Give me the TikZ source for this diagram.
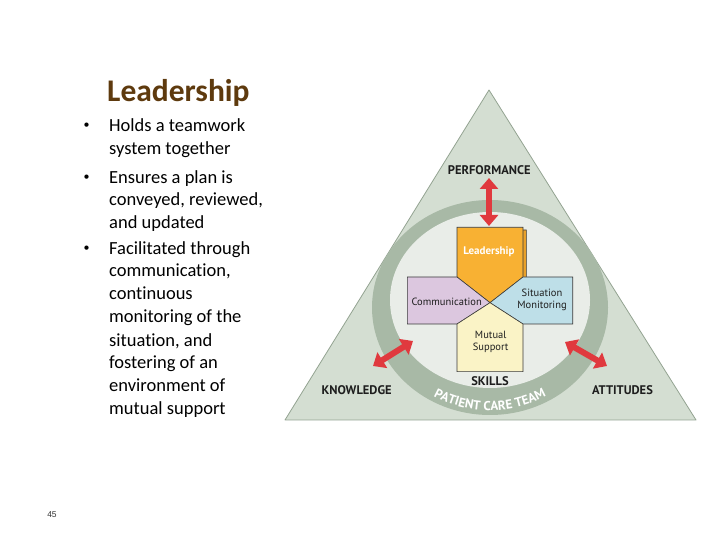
\documentclass[tikz,border=0pt]{standalone}
\usepackage{fontspec}
\setmainfont[Ligatures=NoCommon]{Carlito}
\newfontfamily\diagfont{PT Sans}
\newfontfamily\pagefont{Liberation Sans}
\usetikzlibrary{arrows.meta,decorations.text}
\definecolor{brownT}{HTML}{5E3A0E}
\definecolor{triFill}{HTML}{D4DED2}
\definecolor{triEdge}{HTML}{93A391}
\definecolor{ringC}{HTML}{A8B9A6}
\definecolor{innerC}{HTML}{E9EDE8}
\definecolor{arrowRed}{HTML}{E0393E}
\definecolor{orangeC}{HTML}{F8B133}
\definecolor{orangeD}{HTML}{E9A12A}
\definecolor{lavC}{HTML}{DCC7DF}
\definecolor{blueC}{HTML}{BEDFE8}
\definecolor{yelC}{HTML}{FAF3C6}
\definecolor{boxEdge}{HTML}{3A3A3A}
\definecolor{labC}{HTML}{1E1E1E}
\tikzset{
  bodytext/.style={anchor=base west, inner sep=0pt, font=\fontsize{18.5}{23}\selectfont},
  bulletmark/.style={inner sep=0pt, font=\fontsize{12}{14}\selectfont},
  cornerlab/.style={inner sep=0pt, text=labC, font=\diagfont\bfseries\fontsize{12.5}{14}\selectfont},
  boxlab/.style={inner sep=0pt, text=labC, align=center, font=\diagfont\fontsize{10.5}{12}\selectfont},
  boxshape/.style={draw=boxEdge, line width=0.6pt, line join=miter},
  redarrow/.style={draw=arrowRed, line width=6pt, {Triangle[width=18pt,length=11pt]}-{Triangle[width=18pt,length=11pt]}}
}
\begin{document}
\begin{tikzpicture}[x=1pt,y=1pt]
\path[use as bounding box, fill=white] (0,0) rectangle (720,540);

% left text
\node[anchor=base west, inner sep=0pt, text=brownT, font=\fontsize{31.5}{36}\selectfont\bfseries] (title) at (107,438.3) {Leadership};
\node[bulletmark] (bu1) at (86.5,414) {•};
\node[bulletmark] (bu2) at (86.5,362.5) {•};
\node[bulletmark] (bu3) at (86.5,290.8) {•};
\node[bodytext] (l1) at (109,408.3) {Holds a teamwork};
\node[bodytext] (l2) at (109,385.5) {system together};
\node[bodytext] (l3) at (109,356.7) {Ensures a plan is};
\node[bodytext] (l4) at (109,334.5) {conveyed, reviewed,};
\node[bodytext] (l5) at (109,311.7) {and updated};
\node[bodytext] (l6) at (109,285) {Facilitated through};
\node[bodytext] (l7) at (109,263) {communication,};
\node[bodytext] (l8) at (109,240) {continuous};
\node[bodytext] (l9) at (109,217) {monitoring of the};
\node[bodytext] (l10) at (109,193.5) {situation, and};
\node[bodytext] (l11) at (109,171) {fostering of an};
\node[bodytext] (l12) at (109,148) {environment of};
\node[bodytext] (l13) at (109,125) {mutual support};

\node[inner sep=0pt, font=\pagefont\fontsize{8.5}{10}\selectfont, text=black!80] (pg) at (52,25) {45};

% triangle
\draw[fill=triFill, draw=triEdge, line width=0.8pt, line join=round] (489,450) -- (696,120) -- (285,120) -- cycle;

% ring
\fill[ringC] (490,232.5) ellipse[x radius=118, y radius=107.5];
\fill[innerC] (490,240) ellipse[x radius=100, y radius=88];
\coordinate (ts) at (420.3,152.4);
\path[decorate, decoration={text along path, text align=center, text color=white,
  text={|\diagfont\bfseries\fontsize{13}{14}\selectfont|PATIENT CARE TEAM}}]
  (ts) arc[start angle=232, end angle=308, x radius=113, y radius=108];

% boxes
\draw[boxshape, fill=orangeD] (460.3,310) -- (526.3,310) -- (526.3,260.3) -- (493.3,234.6) -- (460.3,260.3) -- cycle;
\draw[boxshape, fill=orangeC] (457,312.7) -- (523,312.7) -- (523,263) -- (490,237.3) -- (457,263) -- cycle;
\draw[boxshape, fill=lavC] (407.3,263) -- (457,263) -- (490,237.3) -- (457,216) -- (407.3,216) -- cycle;
\draw[boxshape, fill=blueC] (523,263) -- (572.7,263) -- (572.7,216) -- (523,216) -- (490,237.3) -- cycle;
\draw[boxshape, fill=yelC] (490,237.3) -- (523,216) -- (523,168.3) -- (457,168.3) -- (457,216) -- cycle;

\node[inner sep=0pt, text=white, font=\diagfont\bfseries\fontsize{11}{12}\selectfont] (lead) at (489,288) {Leadership};
\node[boxlab] (comm) at (446.7,238) {Communication};
\node[boxlab] (sit) at (542,240) {Situation\\Monitoring};
\node[boxlab] (mut) at (490.7,198) {Mutual\\Support};

% labels
\node[cornerlab] (perf) at (489.3,370) {PERFORMANCE};
\node[cornerlab] (skills) at (490,159) {SKILLS};
\node[cornerlab] (know) at (356.7,150) {KNOWLEDGE};
\node[cornerlab] (att) at (622.5,150) {ATTITUDES};

% arrows
\coordinate (t1) at (489,362);
\coordinate (t2) at (489,314);
\coordinate (k1) at (413,199);
\coordinate (k2) at (373,174);
\coordinate (a1) at (565,198);
\coordinate (a2) at (607,174);
\draw[redarrow] (t1) -- (t2);
\draw[redarrow] (k1) -- (k2);
\draw[redarrow] (a1) -- (a2);
\end{tikzpicture}
\end{document}
